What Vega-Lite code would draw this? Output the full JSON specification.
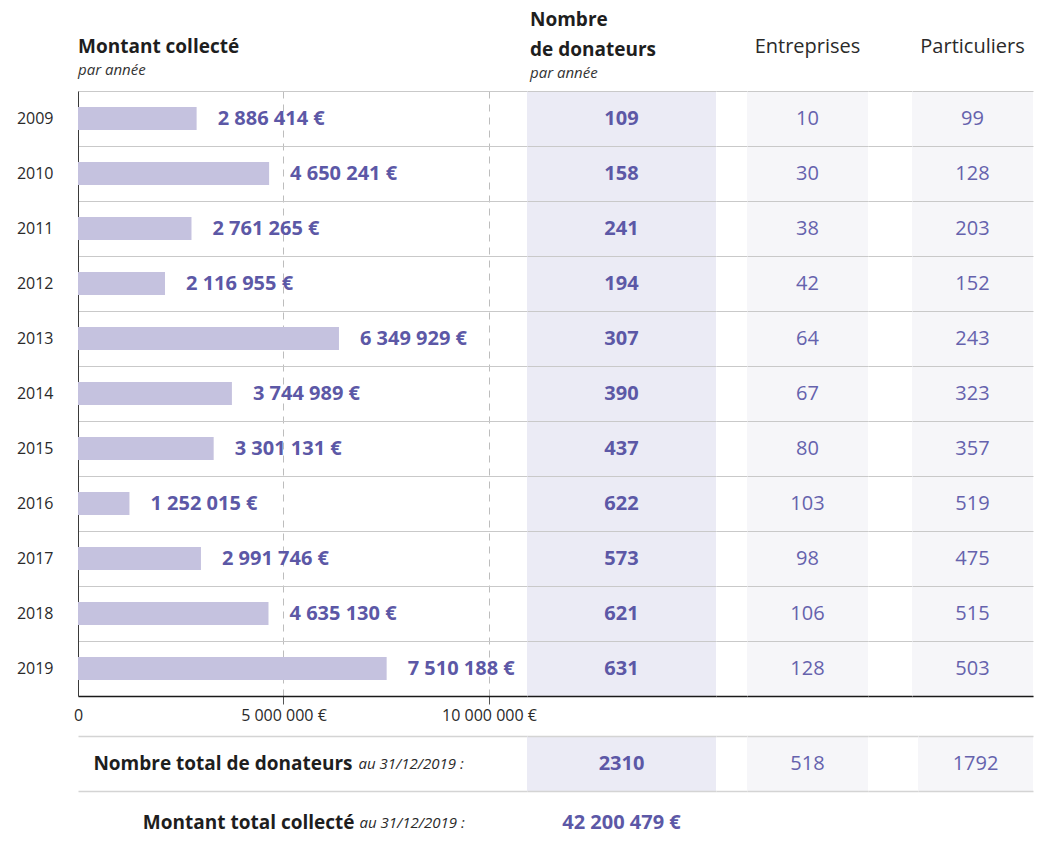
{
  "$schema": "https://vega.github.io/schema/vega-lite/v6.json",
  "background": "white",
  "padding": {"left": 16, "top": 11, "right": 5, "bottom": 5},
  "config": {
    "font": "Open Sans",
    "locale": {"number": {"decimal": ",", "thousands": " ", "grouping": [3], "currency": ["", " €"]}},
    "view": {"stroke": null},
    "title": {
      "font": "Open Sans", "fontSize": 19, "fontWeight": "bold", "color": "#1e1e1e",
      "subtitleFont": "Open Sans", "subtitleFontSize": 15, "subtitleFontStyle": "italic",
      "subtitleColor": "#333333", "subtitlePadding": 6
    }
  },
  "datasets": {
    "annees": [
      {"annee": "2009", "montant": 2886414, "donateurs": 109, "entreprises": 10, "particuliers": 99},
      {"annee": "2010", "montant": 4650241, "donateurs": 158, "entreprises": 30, "particuliers": 128},
      {"annee": "2011", "montant": 2761265, "donateurs": 241, "entreprises": 38, "particuliers": 203},
      {"annee": "2012", "montant": 2116955, "donateurs": 194, "entreprises": 42, "particuliers": 152},
      {"annee": "2013", "montant": 6349929, "donateurs": 307, "entreprises": 64, "particuliers": 243},
      {"annee": "2014", "montant": 3744989, "donateurs": 390, "entreprises": 67, "particuliers": 323},
      {"annee": "2015", "montant": 3301131, "donateurs": 437, "entreprises": 80, "particuliers": 357},
      {"annee": "2016", "montant": 1252015, "donateurs": 622, "entreprises": 103, "particuliers": 519},
      {"annee": "2017", "montant": 2991746, "donateurs": 573, "entreprises": 98, "particuliers": 475},
      {"annee": "2018", "montant": 4635130, "donateurs": 621, "entreprises": 106, "particuliers": 515},
      {"annee": "2019", "montant": 7510188, "donateurs": 631, "entreprises": 128, "particuliers": 503}
    ],
    "totaux": [
      {"libelle": "Nombre total de donateurs", "precision": "au 31/12/2019 :", "donateurs": 2310, "entreprises": 518, "particuliers": 1792}
    ],
    "montant_total": [
      {"libelle": "Montant total collecté", "precision": "au 31/12/2019 :", "montant": 42200479}
    ]
  },
  "spacing": 13,
  "vconcat": [
    {
      "spacing": 0,
      "bounds": "flush",
      "hconcat": [
        {
          "width": 449, "height": 605,
          "data": {"name": "annees"},
          "title": {"text": "Montant collecté", "subtitle": "par année", "anchor": "start", "frame": "group", "offset": 5},
          "encoding": {
            "y": {"field": "annee", "type": "ordinal", "scale": {"type": "band", "paddingInner": 0, "paddingOuter": 0},
              "axis": {"title": null, "labelFontSize": 16, "labelColor": "#2a2a2a", "labelPadding": 25, "ticks": false,
                "domain": true, "domainColor": "#3a3a3a", "grid": true, "gridColor": "#c9c9c9", "tickBand": "extent"}}
          },
          "layer": [
            {
              "mark": {"type": "bar", "color": "#c5c2df", "size": 23},
              "encoding": {
                "x": {"field": "montant", "type": "quantitative", "scale": {"domain": [0, 10925000], "nice": false},
                  "axis": {"title": null, "values": [0, 5000000, 10000000], "format": "$,.0f",
                    "labelExpr": "datum.value === 0 ? '0' : datum.label",
                    "labelFontSize": 16, "labelColor": "#2a2a2a", "labelPadding": 3, "labelFlush": false,
                    "tickSize": 8, "tickColor": "#555555",
                    "tickOpacity": {"condition": {"test": "datum.value === 0", "value": 0}, "value": 1},
                    "grid": true, "gridColor": "#bdbdbd", "gridDash": [7, 6],
                    "gridOpacity": {"condition": {"test": "datum.value === 0", "value": 0}, "value": 1},
                    "domainColor": "#1a1a1a", "domainWidth": 1.5}}
              }
            },
            {
              "mark": {"type": "text", "align": "left", "dx": 21, "fontSize": 20, "fontWeight": "bold", "color": "#5c58a6"},
              "encoding": {
                "x": {"field": "montant", "type": "quantitative"},
                "text": {"field": "montant", "type": "quantitative", "format": "$,.0f"}
              }
            }
          ]
        },
        {
          "width": 189, "height": 605,
          "data": {"name": "annees"},
          "view": {"fill": "#ebebf5", "stroke": null},
          "title": {"text": ["Nombre", "de donateurs"], "subtitle": "par année", "anchor": "start", "frame": "group", "offset": 10, "dx": 3, "lineHeight": 30},
          "mark": {"type": "text", "fontSize": 20, "fontWeight": "bold", "color": "#5c58a6"},
          "encoding": {
            "y": {"field": "annee", "type": "ordinal", "scale": {"type": "band", "paddingInner": 0, "paddingOuter": 0},
              "axis": {"title": null, "labels": false, "ticks": false, "domain": false, "grid": true, "gridColor": "#c9c9c9", "tickBand": "extent"}},
            "x": {"datum": "donateurs", "type": "nominal",
              "axis": {"title": null, "labels": false, "ticks": false, "grid": false, "domain": true, "domainColor": "#1a1a1a", "domainWidth": 1.5}},
            "text": {"field": "donateurs", "type": "quantitative", "format": "d"}
          }
        },
        {
          "width": 31, "height": 605,
          "data": {"name": "annees"},
          "mark": {"type": "text", "text": ""},
          "encoding": {
            "y": {"field": "annee", "type": "ordinal", "scale": {"type": "band", "paddingInner": 0, "paddingOuter": 0},
              "axis": {"title": null, "labels": false, "ticks": false, "domain": false, "grid": true, "gridColor": "#c9c9c9", "tickBand": "extent"}},
            "x": {"datum": "vide", "type": "nominal",
              "axis": {"title": null, "labels": false, "ticks": false, "grid": false, "domain": true, "domainColor": "#1a1a1a", "domainWidth": 1.5}}
          }
        },
        {
          "width": 121, "height": 605,
          "data": {"name": "annees"},
          "view": {"fill": "#f6f6f9", "stroke": null},
          "title": {"text": "Entreprises", "anchor": "middle", "frame": "group", "fontWeight": "normal", "fontSize": 20, "color": "#2a2a2a", "offset": 34},
          "mark": {"type": "text", "fontSize": 20, "color": "#6562ad"},
          "encoding": {
            "y": {"field": "annee", "type": "ordinal", "scale": {"type": "band", "paddingInner": 0, "paddingOuter": 0},
              "axis": {"title": null, "labels": false, "ticks": false, "domain": false, "grid": true, "gridColor": "#c9c9c9", "tickBand": "extent"}},
            "x": {"datum": "entreprises", "type": "nominal",
              "axis": {"title": null, "labels": false, "ticks": false, "grid": false, "domain": true, "domainColor": "#1a1a1a", "domainWidth": 1.5}},
            "text": {"field": "entreprises", "type": "quantitative", "format": "d"}
          }
        },
        {
          "width": 44, "height": 605,
          "data": {"name": "annees"},
          "mark": {"type": "text", "text": ""},
          "encoding": {
            "y": {"field": "annee", "type": "ordinal", "scale": {"type": "band", "paddingInner": 0, "paddingOuter": 0},
              "axis": {"title": null, "labels": false, "ticks": false, "domain": false, "grid": true, "gridColor": "#c9c9c9", "tickBand": "extent"}},
            "x": {"datum": "vide", "type": "nominal",
              "axis": {"title": null, "labels": false, "ticks": false, "grid": false, "domain": true, "domainColor": "#1a1a1a", "domainWidth": 1.5}}
          }
        },
        {
          "width": 121, "height": 605,
          "data": {"name": "annees"},
          "view": {"fill": "#f6f6f9", "stroke": null},
          "title": {"text": "Particuliers", "anchor": "middle", "frame": "group", "fontWeight": "normal", "fontSize": 20, "color": "#2a2a2a", "offset": 34},
          "mark": {"type": "text", "fontSize": 20, "color": "#6562ad"},
          "encoding": {
            "y": {"field": "annee", "type": "ordinal", "scale": {"type": "band", "paddingInner": 0, "paddingOuter": 0},
              "axis": {"title": null, "labels": false, "ticks": false, "domain": false, "grid": true, "gridColor": "#c9c9c9", "tickBand": "extent"}},
            "x": {"datum": "particuliers", "type": "nominal",
              "axis": {"title": null, "labels": false, "ticks": false, "grid": false, "domain": true, "domainColor": "#1a1a1a", "domainWidth": 1.5}},
            "text": {"field": "particuliers", "type": "quantitative", "format": "d"}
          }
        }
      ]
    },
    {
      "spacing": 12,
      "vconcat": [
        {
          "spacing": 0,
          "bounds": "flush",
          "hconcat": [
            {
              "width": 449, "height": 55,
              "data": {"name": "totaux"},
              "encoding": {
                "y": {"field": "libelle", "type": "nominal", "scale": {"type": "band", "paddingInner": 0, "paddingOuter": 0},
                  "axis": {"title": null, "labels": false, "ticks": false, "domain": false, "grid": true, "gridColor": "#d4d4d4", "gridWidth": 1.5, "tickBand": "extent"}}
              },
              "layer": [
                {"mark": {"type": "text", "align": "right", "dx": 50, "fontSize": 19, "fontWeight": "bold", "color": "#1e1e1e"},
                 "encoding": {"text": {"field": "libelle", "type": "nominal"}}},
                {"mark": {"type": "text", "align": "left", "dx": 56, "fontSize": 15, "fontStyle": "italic", "color": "#2a2a2a"},
                 "encoding": {"text": {"field": "precision", "type": "nominal"}}}
              ]
            },
            {
              "width": 189, "height": 55,
              "data": {"name": "totaux"},
              "view": {"fill": "#ebebf5", "stroke": null},
              "mark": {"type": "text", "fontSize": 20, "fontWeight": "bold", "color": "#5c58a6"},
              "encoding": {
                "y": {"field": "libelle", "type": "nominal", "scale": {"type": "band", "paddingInner": 0, "paddingOuter": 0},
                  "axis": {"title": null, "labels": false, "ticks": false, "domain": false, "grid": true, "gridColor": "#d4d4d4", "gridWidth": 1.5, "tickBand": "extent"}},
                "text": {"field": "donateurs", "type": "quantitative", "format": "d"}
              }
            },
            {
              "width": 31, "height": 55,
              "data": {"name": "totaux"},
              "mark": {"type": "text", "text": ""},
              "encoding": {
                "y": {"field": "libelle", "type": "nominal", "scale": {"type": "band", "paddingInner": 0, "paddingOuter": 0},
                  "axis": {"title": null, "labels": false, "ticks": false, "domain": false, "grid": true, "gridColor": "#d4d4d4", "gridWidth": 1.5, "tickBand": "extent"}}
              }
            },
            {
              "width": 121, "height": 55,
              "data": {"name": "totaux"},
              "view": {"fill": "#f6f6f9", "stroke": null},
              "mark": {"type": "text", "fontSize": 20, "color": "#6562ad"},
              "encoding": {
                "y": {"field": "libelle", "type": "nominal", "scale": {"type": "band", "paddingInner": 0, "paddingOuter": 0},
                  "axis": {"title": null, "labels": false, "ticks": false, "domain": false, "grid": true, "gridColor": "#d4d4d4", "gridWidth": 1.5, "tickBand": "extent"}},
                "text": {"field": "entreprises", "type": "quantitative", "format": "d"}
              }
            },
            {
              "width": 50, "height": 55,
              "data": {"name": "totaux"},
              "mark": {"type": "text", "text": ""},
              "encoding": {
                "y": {"field": "libelle", "type": "nominal", "scale": {"type": "band", "paddingInner": 0, "paddingOuter": 0},
                  "axis": {"title": null, "labels": false, "ticks": false, "domain": false, "grid": true, "gridColor": "#d4d4d4", "gridWidth": 1.5, "tickBand": "extent"}}
              }
            },
            {
              "width": 115, "height": 55,
              "data": {"name": "totaux"},
              "view": {"fill": "#f6f6f9", "stroke": null},
              "mark": {"type": "text", "fontSize": 20, "color": "#6562ad"},
              "encoding": {
                "y": {"field": "libelle", "type": "nominal", "scale": {"type": "band", "paddingInner": 0, "paddingOuter": 0},
                  "axis": {"title": null, "labels": false, "ticks": false, "domain": false, "grid": true, "gridColor": "#d4d4d4", "gridWidth": 1.5, "tickBand": "extent"}},
                "text": {"field": "particuliers", "type": "quantitative", "format": "d"}
              }
            }
          ]
        },
        {
          "spacing": 0,
          "bounds": "flush",
          "hconcat": [
            {
              "width": 449, "height": 40,
              "data": {"name": "montant_total"},
              "layer": [
                {"mark": {"type": "text", "align": "right", "dx": 52, "fontSize": 19, "fontWeight": "bold", "color": "#1e1e1e"},
                 "encoding": {"text": {"field": "libelle", "type": "nominal"}}},
                {"mark": {"type": "text", "align": "left", "dx": 57, "fontSize": 15, "fontStyle": "italic", "color": "#2a2a2a"},
                 "encoding": {"text": {"field": "precision", "type": "nominal"}}}
              ]
            },
            {
              "width": 189, "height": 40,
              "data": {"name": "montant_total"},
              "mark": {"type": "text", "fontSize": 20, "fontWeight": "bold", "color": "#5c58a6"},
              "encoding": {
                "text": {"field": "montant", "type": "quantitative", "format": "$,.0f"}
              }
            }
          ]
        }
      ]
    }
  ]
}
